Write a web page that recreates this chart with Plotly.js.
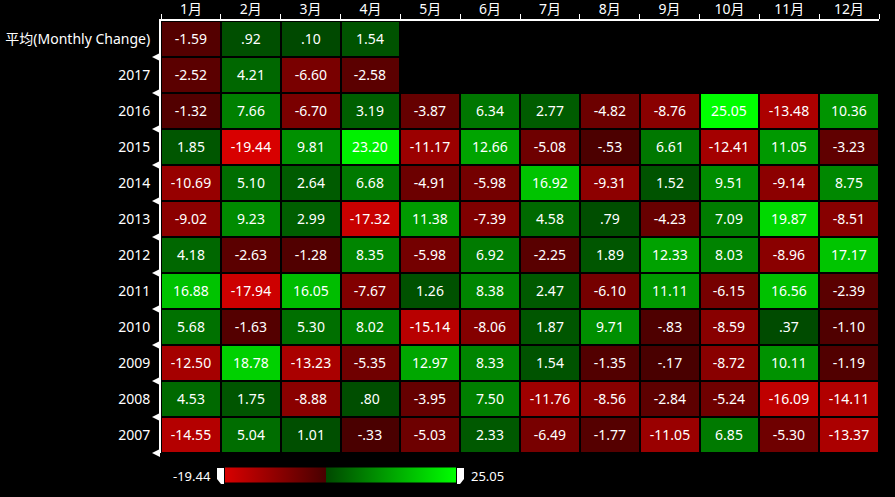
<!DOCTYPE html>
<html>
<head>
<meta charset="utf-8">
<script src="https://cdn.plot.ly/plotly-3.0.1.min.js"></script>
<style>html,body{margin:0;padding:0;background:#000;}#chart{width:895px;height:497px;}</style>
</head>
<body>
<div id="chart"></div>
<script>
const months = ['1月','2月','3月','4月','5月','6月','7月','8月','9月','10月','11月','12月'];
const rowLabels = ['平均(Monthly Change)','2017','2016','2015','2014','2013','2012','2011','2010','2009','2008','2007'];
const avgRow  = [-1.59, 0.92, 0.10, 1.54, null, null, null, null, null, null, null, null];
const y2017 = [-2.52, 4.21, -6.60, -2.58, null, null, null, null, null, null, null, null];
const y2016 = [-1.32, 7.66, -6.70, 3.19, -3.87, 6.34, 2.77, -4.82, -8.76, 25.05, -13.48, 10.36];
const y2015 = [1.85, -19.44, 9.81, 23.20, -11.17, 12.66, -5.08, -0.53, 6.61, -12.41, 11.05, -3.23];
const y2014 = [-10.69, 5.10, 2.64, 6.68, -4.91, -5.98, 16.92, -9.31, 1.52, 9.51, -9.14, 8.75];
const y2013 = [-9.02, 9.23, 2.99, -17.32, 11.38, -7.39, 4.58, 0.79, -4.23, 7.09, 19.87, -8.51];
const y2012 = [4.18, -2.63, -1.28, 8.35, -5.98, 6.92, -2.25, 1.89, 12.33, 8.03, -8.96, 17.17];
const y2011 = [16.88, -17.94, 16.05, -7.67, 1.26, 8.38, 2.47, -6.10, 11.11, -6.15, 16.56, -2.39];
const y2010 = [5.68, -1.63, 5.30, 8.02, -15.14, -8.06, 1.87, 9.71, -0.83, -8.59, 0.37, -1.10];
const y2009 = [-12.50, 18.78, -13.23, -5.35, 12.97, 8.33, 1.54, -1.35, -0.17, -8.72, 10.11, -1.19];
const y2008 = [4.53, 1.75, -8.88, 0.80, -3.95, 7.50, -11.76, -8.56, -2.84, -5.24, -16.09, -14.11];
const y2007 = [-14.55, 5.04, 1.01, -0.33, -5.03, 2.33, -6.49, -1.77, -11.05, 6.85, -5.30, -13.37];

const z = [avgRow, y2017, y2016, y2015, y2014, y2013, y2012, y2011, y2010, y2009, y2008, y2007];

function fmt(v){
  if (v === null) return '';
  let s = Math.abs(v).toFixed(2);
  if (s.startsWith('0')) s = s.slice(1);
  return (v < 0 ? '-' : '') + s;
}
const text = z.map(r => r.map(fmt));
const all = z.flat().filter(v => v !== null);
const zmin = Math.min(...all), zmax = Math.max(...all);
const zf = (0 - zmin) / (zmax - zmin);

const xIdx = months.map((m, i) => i);
const yIdx = rowLabels.map((r, i) => i);

const colorscale = [
  [0, '#d80000'], [zf, '#480000'], [zf, '#004800'], [1, '#00ff00']
];

const FONT = 'Noto Sans, Noto Sans CJK SC, sans-serif';

const heat = {
  type: 'heatmap', x: xIdx, y: yIdx, z: z, text: text,
  texttemplate: '%{text}', textfont: {color: '#ffffff', size: 14, family: FONT},
  zmin: zmin, zmax: zmax, colorscale: colorscale, xgap: 2, ygap: 2,
  hoverinfo: 'skip',
  colorbar: {
    orientation: 'h', thickness: 15, len: 231, lenmode: 'pixels',
    x: 0.25, xanchor: 'center', y: -0.052, yanchor: 'middle',
    showticklabels: false, ticks: '', outlinewidth: 0, xpad: 0, ypad: 0
  }
};

// row boundary markers (white left-pointing triangles beside the y axis)
const nRows = rowLabels.length;
const boundaries = yIdx.slice(1).map(i => i - 0.5).concat([nRows - 0.5]);
const triShapes = boundaries.map(b => ({
  type: 'path', xref: 'paper', yref: 'paper', xsizemode: 'pixel', ysizemode: 'pixel',
  xanchor: 0, yanchor: 1 - (b + 0.5) / nRows, fillcolor: '#ffffff', line: {width: 0},
  path: 'M -1,4 L -9,0 L -1,-4 Z'
}));

const px = v => (v - 161) / 718;
const py = v => (453 - v) / 432;

const layout = {
  width: 895, height: 497,
  margin: {l: 161, r: 16, t: 21, b: 44},
  paper_bgcolor: '#000', plot_bgcolor: '#000',
  font: {family: FONT, color: '#ffffff', size: 14},
  xaxis: {
    side: 'top', range: [-0.5, 11.5], tickmode: 'array', tickvals: xIdx, ticktext: months,
    showgrid: false, zeroline: false, showline: true, linecolor: '#ffffff', linewidth: 2,
    ticks: '', ticklabelstandoff: -1,
    tickfont: {size: 14, color: '#ffffff', family: FONT},
    minor: {tickmode: 'linear', tick0: 0.5, dtick: 1, ticks: 'outside', ticklen: 5, tickcolor: '#ffffff', showgrid: false}
  },
  yaxis: {
    range: [11.5, -0.5], tickmode: 'array', tickvals: yIdx, ticktext: rowLabels,
    showgrid: false, zeroline: false, showline: true, linecolor: '#ffffff', linewidth: 2,
    ticks: 'outside', ticklen: 6, tickcolor: 'rgba(0,0,0,0)',
    tickfont: {size: 14, color: '#ffffff', family: FONT}
  },
  annotations: [
    {xref: 'paper', yref: 'paper', x: px(213), y: py(476), xanchor: 'right', yanchor: 'middle',
     text: fmt(zmin), showarrow: false, font: {size: 13, color: '#ffffff', family: FONT}},
    {xref: 'paper', yref: 'paper', x: px(469), y: py(476), xanchor: 'left', yanchor: 'middle',
     text: fmt(zmax), showarrow: false, font: {size: 13, color: '#ffffff', family: FONT}}
  ],
  shapes: triShapes.concat([
    {type: 'path', xref: 'paper', yref: 'paper', fillcolor: '#ffffff', line: {width: 0},
     path: `M ${px(217)},${py(468)} L ${px(224)},${py(468)} L ${px(224)},${py(484)} L ${px(221)},${py(484)} L ${px(217)},${py(479)} Z`},
    {type: 'path', xref: 'paper', yref: 'paper', fillcolor: '#ffffff', line: {width: 0},
     path: `M ${px(457)},${py(468)} L ${px(464)},${py(468)} L ${px(464)},${py(479)} L ${px(460)},${py(484)} L ${px(457)},${py(484)} Z`}
  ])
};

Plotly.newPlot('chart', [heat], layout, {displayModeBar: false, staticPlot: true});
</script>
</body>
</html>
